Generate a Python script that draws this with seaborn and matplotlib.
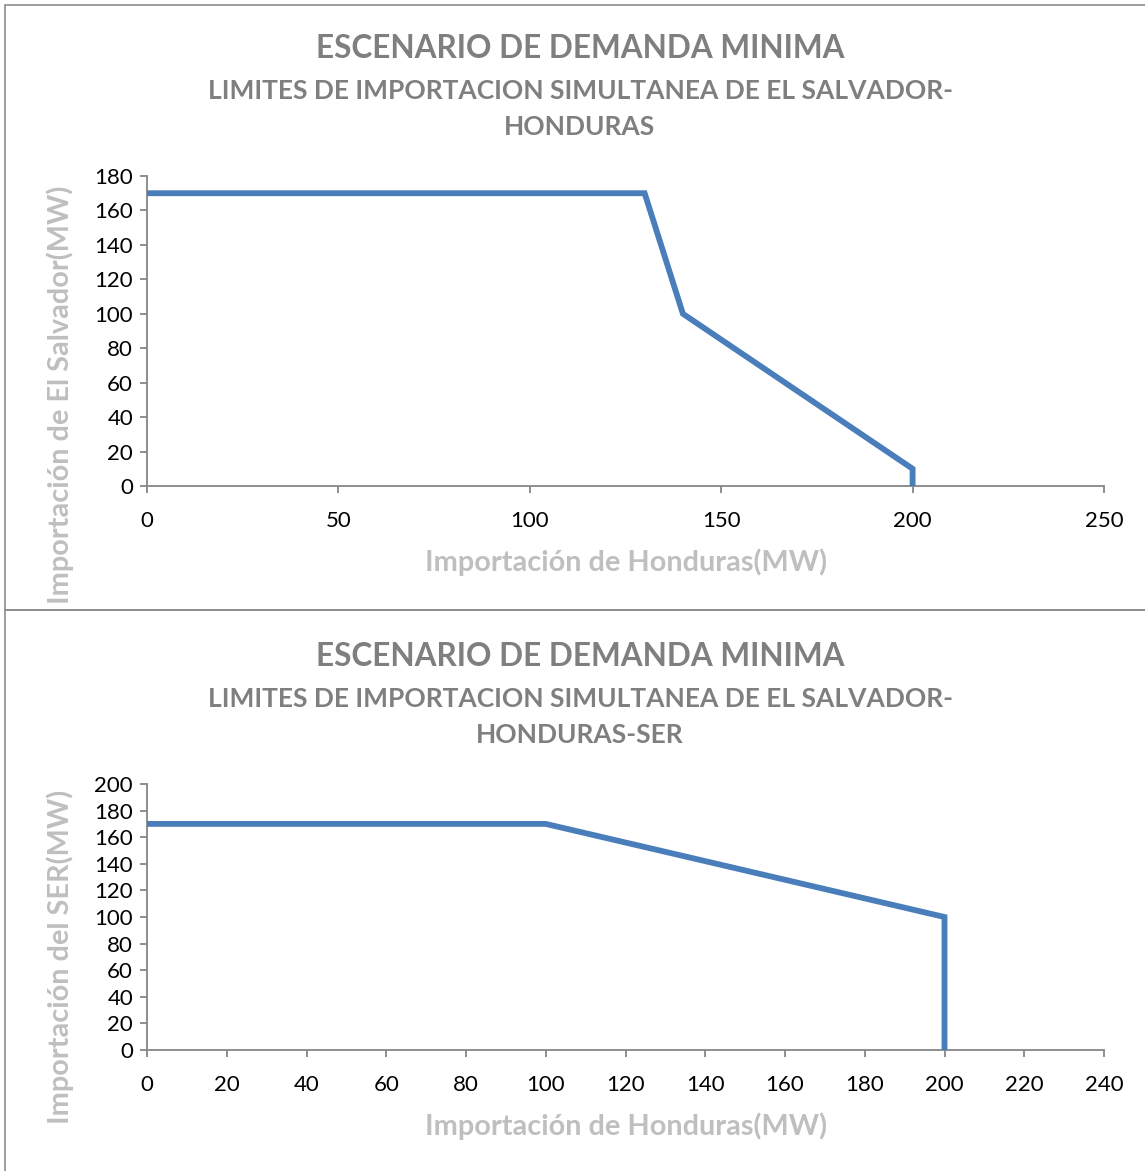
import matplotlib
matplotlib.use("Agg")
import matplotlib.pyplot as plt
import seaborn as sns
import pandas as pd
from matplotlib.patches import Rectangle

# ---- data ----
top_x = [0, 130, 140, 200, 200]
top_y = [170, 170, 100, 10, 0]
bot_x = [0, 100, 200, 200]
bot_y = [170, 170, 100, 0]

title_main = "ESCENARIO DE DEMANDA MINIMA"
top_sub = "LIMITES DE IMPORTACION SIMULTANEA DE EL SALVADOR-\nHONDURAS"
bot_sub = "LIMITES DE IMPORTACION SIMULTANEA DE EL SALVADOR-\nHONDURAS-SER"
xlabel = "Importación de Honduras(MW)"
top_ylabel = "Importación de El Salvador(MW)"
bot_ylabel = "Importación del SER(MW)"
top_xticks = [0, 50, 100, 150, 200, 250]
top_yticks = list(range(0, 181, 20))
bot_xticks = list(range(0, 241, 20))
bot_yticks = list(range(0, 201, 20))

sns.set_theme(style="white")
plt.rcParams['font.family'] = ['Lato', 'DejaVu Sans']

W, H = 1145, 1171
fig = plt.figure(figsize=(W / 100, H / 100), dpi=100)
fig.patch.set_facecolor("white")

def fx(px):
    return px / W

def fy(py):
    return 1 - py / H

# panel borders
border_col = "#8c8c8c"
fig.patches.append(Rectangle((fx(5), fy(610)), fx(1150) - fx(5), fy(5) - fy(610),
                             transform=fig.transFigure, fill=False, edgecolor=border_col, lw=1.2))
fig.patches.append(Rectangle((fx(5), fy(1175)), fx(1150) - fx(5), fy(610) - fy(1175),
                             transform=fig.transFigure, fill=False, edgecolor=border_col, lw=1.2))

line_col = "#4A7EBB"
title_col = "#7F7F7F"
label_col = "#BFBFBF"
spine_col = "#868686"

def make_panel(xs, ys, rect_px, xlim, ylim, xticks, yticks, sub, ylab, title_y, ylab_y):
    l, t, r, b = rect_px
    ax = fig.add_axes([fx(l), fy(b), fx(r) - fx(l), fy(t) - fy(b)])
    df = pd.DataFrame({"x": xs, "y": ys})
    sns.lineplot(data=df, x="x", y="y", sort=False, estimator=None, ax=ax, color=line_col, lw=4.2,
                 solid_joinstyle="miter", solid_capstyle="butt", clip_on=False, zorder=5)
    ax.set_xlim(*xlim)
    ax.set_ylim(*ylim)
    ax.set_xticks(xticks)
    ax.set_yticks(yticks)
    for s in ["top", "right"]:
        ax.spines[s].set_visible(False)
    for s in ["left", "bottom"]:
        ax.spines[s].set_color(spine_col)
        ax.spines[s].set_linewidth(1.3)
    ax.tick_params(axis="both", direction="out", length=5, width=1.3, color=spine_col,
                   labelsize=16, labelcolor="black", bottom=True, left=True)
    ax.tick_params(axis="x", pad=13)
    ax.tick_params(axis="y", pad=5)
    ax.set_xlabel("")
    ax.set_ylabel("")
    ax.grid(False)
    # titles
    fig.text(fx(580), fy(title_y), title_main, ha="center", va="center",
             fontsize=22.7, fontweight="bold", color=title_col)
    fig.text(fx(580), fy(title_y + 61), sub, ha="center", va="center",
             fontsize=19, fontweight="bold", color=title_col, linespacing=1.6)
    fig.text(fx(626), fy(b + 76), xlabel, ha="center", va="center",
             fontsize=20.8, fontweight="bold", color=label_col)
    fig.text(fx(60), fy(ylab_y), ylab, ha="center", va="center",
             rotation=90, fontsize=20.8, fontweight="bold", color=label_col)
    return ax

make_panel(top_x, top_y, (147, 176, 1104, 486), (0, 250), (0, 180),
           top_xticks, top_yticks, top_sub, top_ylabel, 48, 395)
make_panel(bot_x, bot_y, (147, 784, 1104, 1050), (0, 240), (0, 200),
           bot_xticks, bot_yticks, bot_sub, bot_ylabel, 656, 957)

fig.savefig("out.png", dpi=100, facecolor="white")
